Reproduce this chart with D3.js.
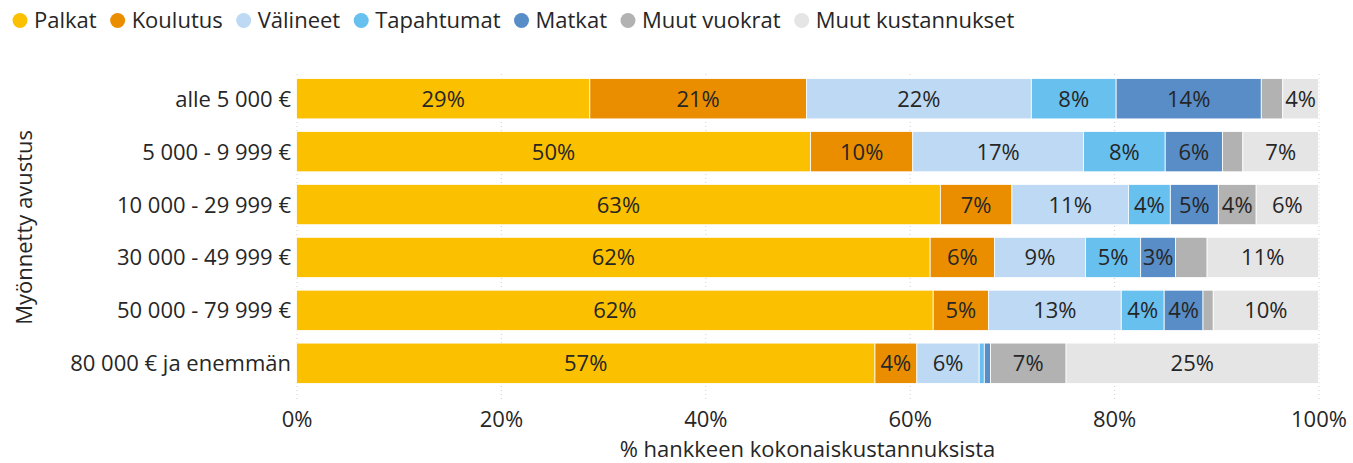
<!DOCTYPE html>
<html>
<head>
<meta charset="utf-8">
<script src="https://cdn.jsdelivr.net/npm/d3@7"></script>
<style>
body { margin: 0; background: #fff; }
text { font-family: "Segoe UI", "Open Sans", sans-serif; fill: #262626; }
</style>
</head>
<body>
<svg width="1353" height="463"></svg>
<script>
var categories = ["alle 5 000 €", "5 000 - 9 999 €", "10 000 - 29 999 €",
    "30 000 - 49 999 €", "50 000 - 79 999 €", "80 000 € ja enemmän"];
var series = ["Palkat", "Koulutus", "Välineet", "Tapahtumat", "Matkat", "Muut vuokrat", "Muut kustannukset"];
var colors = ["#fbc000", "#ea8e00", "#bdd9f3", "#68c0ef", "#588dc8", "#b2b2b2", "#e5e5e5"];

// % of total project costs, per grant size
var palkat      = [28.7, 50.3, 63.0, 62.0, 62.3, 56.6];
var koulutus    = [21.2, 10.0,  7.0,  6.3,  5.4,  4.1];
var valineet    = [22.0, 16.7, 11.4,  8.9, 13.0,  6.1];
var tapahtumat  = [ 8.3,  8.0,  4.1,  5.4,  4.2,  0.5];
var matkat      = [14.2,  5.6,  4.7,  3.4,  3.8,  0.6];
var muutVuokrat = [ 2.1,  2.0,  3.7,  3.1,  1.0,  7.4];
var muutKust    = [ 3.5,  7.4,  6.1, 10.9, 10.3, 24.7];

var xTicks = [0, 20, 40, 60, 80, 100];
var xTitle = "% hankkeen kokonaiskustannuksista";
var yTitle = "Myönnetty avustus";

var fs = "22px";
var svg = d3.select("svg");

var x = d3.scaleLinear().domain([0, 100]).range([296.5, 1318.5]);
var y = d3.scaleBand().domain(categories).range([72.3, 389.7])
    .paddingInner(0.238).paddingOuter(0.119);
var color = d3.scaleOrdinal().domain(series).range(colors);

var cols = [palkat, koulutus, valineet, tapahtumat, matkat, muutVuokrat, muutKust];
var table = categories.map(function(c, i) {
    var row = { cat: c };
    series.forEach(function(s, j) { row[s] = cols[j][i]; });
    return row;
});
var stacked = d3.stack().keys(series)(table);

// grid + x axis
var xAxis = svg.append("g")
    .attr("transform", "translate(0,399)")
    .call(d3.axisBottom(x).tickValues(xTicks).tickSize(-327)
        .tickFormat(function(d) { return d + "%"; }));
xAxis.select(".domain").remove();
xAxis.selectAll("line")
    .attr("stroke", "#cfcfcf")
    .attr("stroke-dasharray", "1,3");
xAxis.selectAll("text")
    .attr("y", 27.7).attr("dy", null)
    .style("font-size", fs)
    .attr("fill", "#262626");

// bars
var layer = svg.append("g").selectAll("g")
    .data(stacked)
    .enter().append("g")
    .attr("fill", function(d) { return color(d.key); });

layer.selectAll("rect")
    .data(function(d) { return d; })
    .enter().append("rect")
    .attr("x", function(d) { return x(d[0]); })
    .attr("y", function(d) { return y(d.data.cat); })
    .attr("width", function(d) { return x(d[1]) - x(d[0]); })
    .attr("height", y.bandwidth())
    .attr("stroke", "#fff")
    .attr("stroke-width", 0.8);

// data labels
layer.selectAll("text")
    .data(function(d) { return d.filter(function(e) { return e[1] - e[0] >= 3.2; }); })
    .enter().append("text")
    .attr("x", function(d) { return (x(d[0]) + x(d[1])) / 2; })
    .attr("y", function(d) { return y(d.data.cat) + y.bandwidth() / 2 + 8; })
    .attr("text-anchor", "middle")
    .style("font-size", fs)
    .text(function(d) { return Math.round(d[1] - d[0]) + "%"; });

// category labels
svg.append("g").selectAll("text")
    .data(categories)
    .enter().append("text")
    .attr("x", 291)
    .attr("y", function(d) { return y(d) + y.bandwidth() / 2 + 8; })
    .attr("text-anchor", "end")
    .style("font-size", fs)
    .text(function(d) { return d; });

// axis titles
svg.append("text")
    .attr("x", 807.5).attr("y", 456.5)
    .attr("text-anchor", "middle")
    .style("font-size", fs)
    .text(xTitle);

svg.append("text")
    .attr("transform", "translate(32,227.4) rotate(-90)")
    .attr("text-anchor", "middle")
    .style("font-size", fs)
    .text(yTitle);

// legend
var lx = 20;
series.forEach(function(s) {
    svg.append("circle")
        .attr("cx", lx).attr("cy", 20.5).attr("r", 7.5)
        .attr("fill", color(s));
    var t = svg.append("text")
        .attr("x", lx + 14).attr("y", 28)
        .style("font-size", fs)
        .text(s);
    lx = lx + 14 + t.node().getComputedTextLength() + 21;
});
</script>
</body>
</html>
